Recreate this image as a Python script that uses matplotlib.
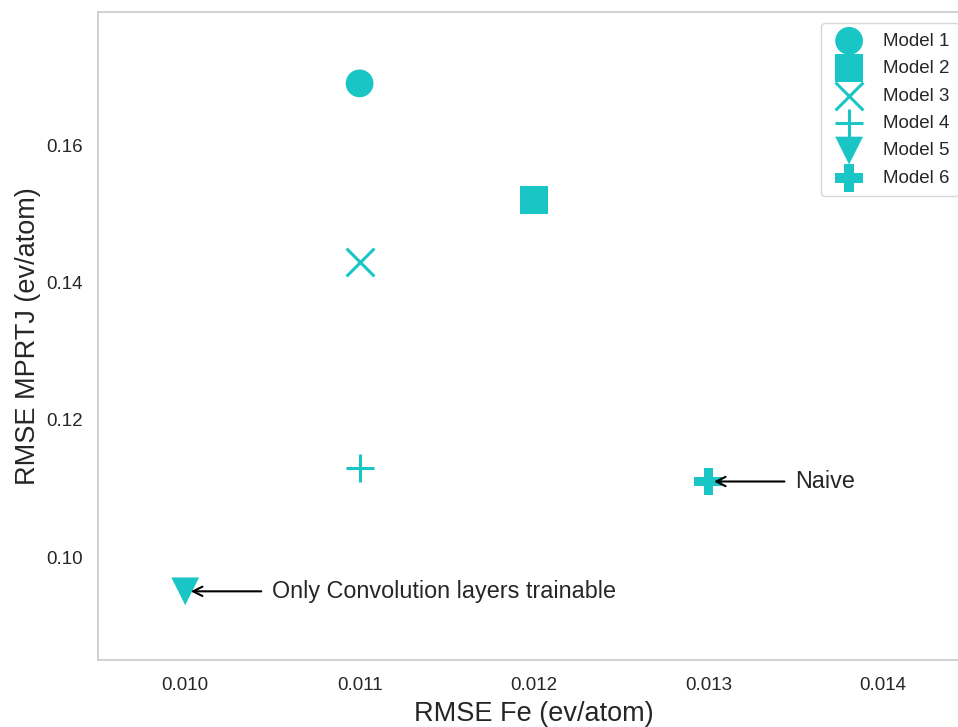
import matplotlib
matplotlib.use("Agg")
import matplotlib.pyplot as plt

models = ["Model 1", "Model 2", "Model 3", "Model 4", "Model 5", "Model 6"]
rmse_fe = [0.011, 0.012, 0.011, 0.011, 0.010, 0.013]
rmse_mprtj = [0.169, 0.152, 0.143, 0.113, 0.095, 0.111]
markers = ["o", "s", "x", "+", "v", "P"]
xticks = [0.010, 0.011, 0.012, 0.013, 0.014]
yticks = [0.10, 0.12, 0.14, 0.16]

plt.rcParams['font.family'] = ['Liberation Sans', 'DejaVu Sans']
color = '#19c5c5'
textc = '#262626'

fig = plt.figure(figsize=(9.58, 7.27), dpi=100)
ax = fig.add_axes([0.1023, 0.0922, 0.9102, 0.8913])

for m, x, y, mk in zip(models, rmse_fe, rmse_mprtj, markers):
    if mk in ("x", "+"):
        ax.scatter([x], [y], marker=mk, s=400, color=color, linewidths=2.2, label=m)
    else:
        ax.scatter([x], [y], marker=mk, s=400, color=color, edgecolors='none', label=m)

ax.set_xlim(0.0095, 0.0145)
ax.set_ylim(0.085, 0.1794)
ax.set_xticks(xticks)
ax.set_xticklabels([f"{v:.3f}" for v in xticks])
ax.set_yticks(yticks)
ax.set_yticklabels([f"{v:.2f}" for v in yticks])
ax.tick_params(axis='both', length=0, labelsize=13.5, labelcolor=textc)
ax.tick_params(axis='x', pad=12)
ax.tick_params(axis='y', pad=11)

for s in ax.spines.values():
    s.set_color('#cccccc')
    s.set_linewidth(1.25)

ax.set_xlabel("RMSE Fe (ev/atom)", fontsize=19.5, color=textc, labelpad=5)
ax.set_ylabel("RMSE MPRTJ (ev/atom)", fontsize=19.5, color=textc, labelpad=4)

ax.annotate("Only Convolution layers trainable", xy=(rmse_fe[4], rmse_mprtj[4]),
            xytext=(0.0105, rmse_mprtj[4]), fontsize=16.8, color=textc,
            va='center', ha='left',
            arrowprops=dict(arrowstyle='->', color='black', lw=1.5,
                            shrinkA=6, shrinkB=4))
ax.annotate("Naive", xy=(rmse_fe[5], rmse_mprtj[5]),
            xytext=(0.0135, rmse_mprtj[5]), fontsize=16.8, color=textc,
            va='center', ha='left',
            arrowprops=dict(arrowstyle='->', color='black', lw=1.5,
                            shrinkA=6, shrinkB=4))

leg = ax.legend(loc='upper right', fontsize=13.5, labelspacing=0.55,
                frameon=True, fancybox=True, handletextpad=0.8,
                borderpad=0.5, borderaxespad=0.6, handlelength=2.0)
leg.get_frame().set_edgecolor('#cccccc')
for t in leg.get_texts():
    t.set_color(textc)

fig.savefig("out.png", dpi=100)
